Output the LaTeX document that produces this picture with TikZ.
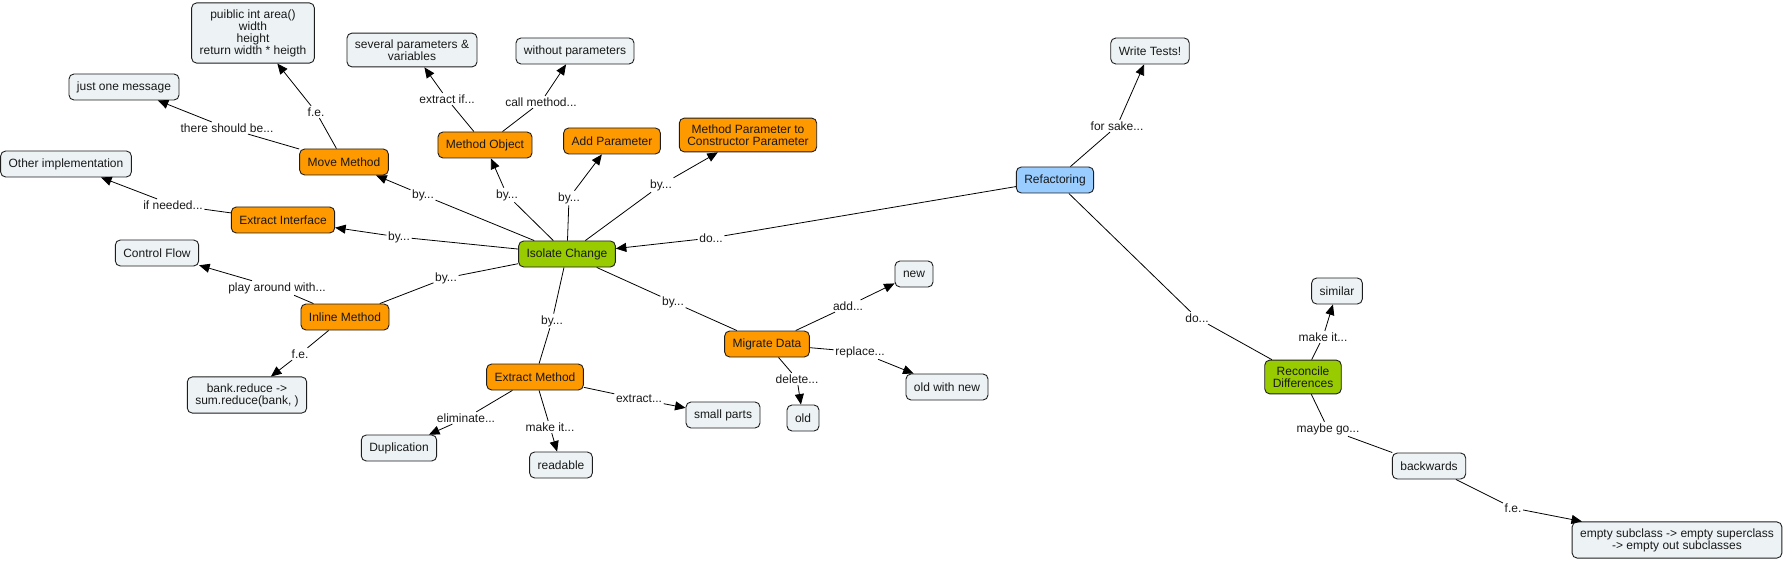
\documentclass[tikz,border=0pt]{standalone}
\usepackage{fontspec}
\setmainfont{Liberation Sans}
\usetikzlibrary{arrows.meta}
\definecolor{cfill}{RGB}{237,243,245}
\definecolor{ofill}{RGB}{255,153,0}
\definecolor{gfill}{RGB}{153,204,0}
\definecolor{bfill}{RGB}{153,204,255}
\definecolor{bord}{RGB}{30,30,30}
\definecolor{txt}{RGB}{25,25,25}
\tikzset{
  box/.style={draw=bord,line width=0.9pt,rounded corners=5pt,inner xsep=8pt,inner ysep=6.5pt,
    minimum height=26pt,align=center,text=txt,font=\fontsize{12}{12}\selectfont},
  conc/.style={box,fill=cfill},
  orng/.style={box,fill=ofill},
  grn/.style={box,fill=gfill},
  blu/.style={box,fill=bfill},
  lbl/.style={inner sep=1.5pt,text=txt,font=\fontsize{12}{12}\selectfont},
  ln/.style={line width=0.8pt,draw=black},
  arr/.style={ln,-{Triangle[length=10.5pt,width=9pt]}}
}
\begin{document}
\begin{tikzpicture}[x=1pt,y=-1pt]
\useasboundingbox (0,0) rectangle (1784,561);
% concept nodes
\node[conc] (pub) at (253,33) {puiblic int area()\\width\\height\\return width * heigth};
\node[conc] (jom) at (124,87) {just one message};
\node[conc] (spv) at (412,50) {several parameters \&\\variables};
\node[conc] (wop) at (575,51) {without parameters};
\node[conc] (oim) at (66,164) {Other implementation};
\node[orng] (mm) at (344,162) {Move Method};
\node[orng] (mo) at (485,145) {Method Object};
\node[orng] (ap) at (612,141) {Add Parameter};
\node[orng] (mpcp) at (748,135) {Method Parameter to\\Constructor Parameter};
\node[orng] (ei) at (283,220) {Extract Interface};
\node[grn] (ic) at (567,254) {Isolate Change};
\node[conc] (cf) at (157,253) {Control Flow};
\node[orng] (im) at (345,317) {Inline Method};
\node[conc] (bank) at (247,395) {bank.reduce ->\\sum.reduce(bank, )};
\node[conc] (dup) at (399,448) {Duplication};
\node[conc] (rd) at (561,465) {readable};
\node[orng] (em) at (535,377) {Extract Method};
\node[conc] (sp) at (723,415) {small parts};
\node[orng] (md) at (767,344) {Migrate Data};
\node[conc] (old) at (803,418) {old};
\node[conc] (new) at (914,274) {new};
\node[conc] (own) at (947,387) {old with new};
\node[conc] (wt) at (1150,51) {Write Tests!};
\node[blu] (ref) at (1055,180) {Refactoring};
\node[conc] (sim) at (1337,291) {similar};
\node[grn] (rec) at (1303,377) {Reconcile\\Differences};
\node[conc] (bw) at (1429,466) {backwards};
\node[conc] (emp) at (1677,540) {empty subclass -> empty superclass\\-> empty out subclasses};
% link labels
\node[lbl] (l1) at (227,128) {there should be...};
\node[lbl] (l2) at (316,112) {f.e.};
\node[lbl] (l3) at (447,99) {extract if...};
\node[lbl] (l4) at (541,102) {call method...};
\node[lbl] (l5) at (173,205) {if needed...};
\node[lbl] (l6) at (423,195) {by...};
\node[lbl] (l7) at (507,195) {by...};
\node[lbl] (l8) at (569,198) {by...};
\node[lbl] (l9) at (661,185) {by...};
\node[lbl] (l10) at (399,237) {by...};
\node[lbl] (l11) at (711,238) {do...};
\node[lbl] (l12) at (1117,126) {for sake...};
\node[lbl] (l13) at (446,278) {by...};
\node[lbl] (l14) at (277,288) {play around with...};
\node[lbl] (l15) at (300,354) {f.e.};
\node[lbl] (l16) at (552,321) {by...};
\node[lbl] (l17) at (466,418) {eliminate...};
\node[lbl] (l18) at (550,427) {make it...};
\node[lbl] (l19) at (639,399) {extract...};
\node[lbl] (l20) at (673,302) {by...};
\node[lbl] (l21) at (848,306) {add...};
\node[lbl] (l22) at (860,352) {replace...};
\node[lbl] (l23) at (797,379) {delete...};
\node[lbl] (l24) at (1197,318) {do...};
\node[lbl] (l25) at (1323,337) {make it...};
\node[lbl] (l26) at (1328,429) {maybe go...};
\node[lbl] (l27) at (1513,508) {f.e.};
% connectors
\draw[ln] (mm) -- (l1); \draw[arr] (l1) -- (jom);
\draw[ln] (mm) -- (l2); \draw[arr] (l2) -- (pub);
\draw[ln] (mo) -- (l3); \draw[arr] (l3) -- (spv);
\draw[ln] (mo) -- (l4); \draw[arr] (l4) -- (wop);
\draw[ln] (ei) -- (l5); \draw[arr] (l5) -- (oim);
\draw[ln] (ic) -- (l6); \draw[arr] (l6) -- (mm);
\draw[ln] (ic) -- (l7); \draw[arr] (l7) -- (mo);
\draw[ln] (ic) -- (l8); \draw[arr] (l8) -- (ap);
\draw[ln] (ic) -- (l9); \draw[arr] (l9) -- (mpcp);
\draw[ln] (ic) -- (l10); \draw[arr] (l10) -- (ei);
\draw[ln] (ref) -- (l11); \draw[arr] (l11) -- (ic);
\draw[ln] (ref) -- (l12); \draw[arr] (l12) -- (wt);
\draw[ln] (ic) -- (l13); \draw[ln] (l13) -- (im);
\draw[ln] (im) -- (l14); \draw[arr] (l14) -- (cf);
\draw[ln] (im) -- (l15); \draw[arr] (l15) -- (bank);
\draw[ln] (ic) -- (l16); \draw[ln] (l16) -- (em);
\draw[ln] (em) -- (l17); \draw[arr] (l17) -- (dup);
\draw[ln] (em) -- (l18); \draw[arr] (l18) -- (rd);
\draw[ln] (em) -- (l19); \draw[arr] (l19) -- (sp);
\draw[ln] (ic) -- (l20); \draw[ln] (l20) -- (md);
\draw[ln] (md) -- (l21); \draw[arr] (l21) -- (new);
\draw[ln] (md) -- (l22); \draw[arr] (l22) -- (own);
\draw[ln] (md) -- (l23); \draw[arr] (l23) -- (old);
\draw[ln] (ref) -- (l24); \draw[ln] (l24) -- (rec);
\draw[ln] (rec) -- (l25); \draw[arr] (l25) -- (sim);
\draw[ln] (rec) -- (l26); \draw[ln] (l26) -- (bw);
\draw[ln] (bw) -- (l27); \draw[arr] (l27) -- (emp);
\end{tikzpicture}
\end{document}
